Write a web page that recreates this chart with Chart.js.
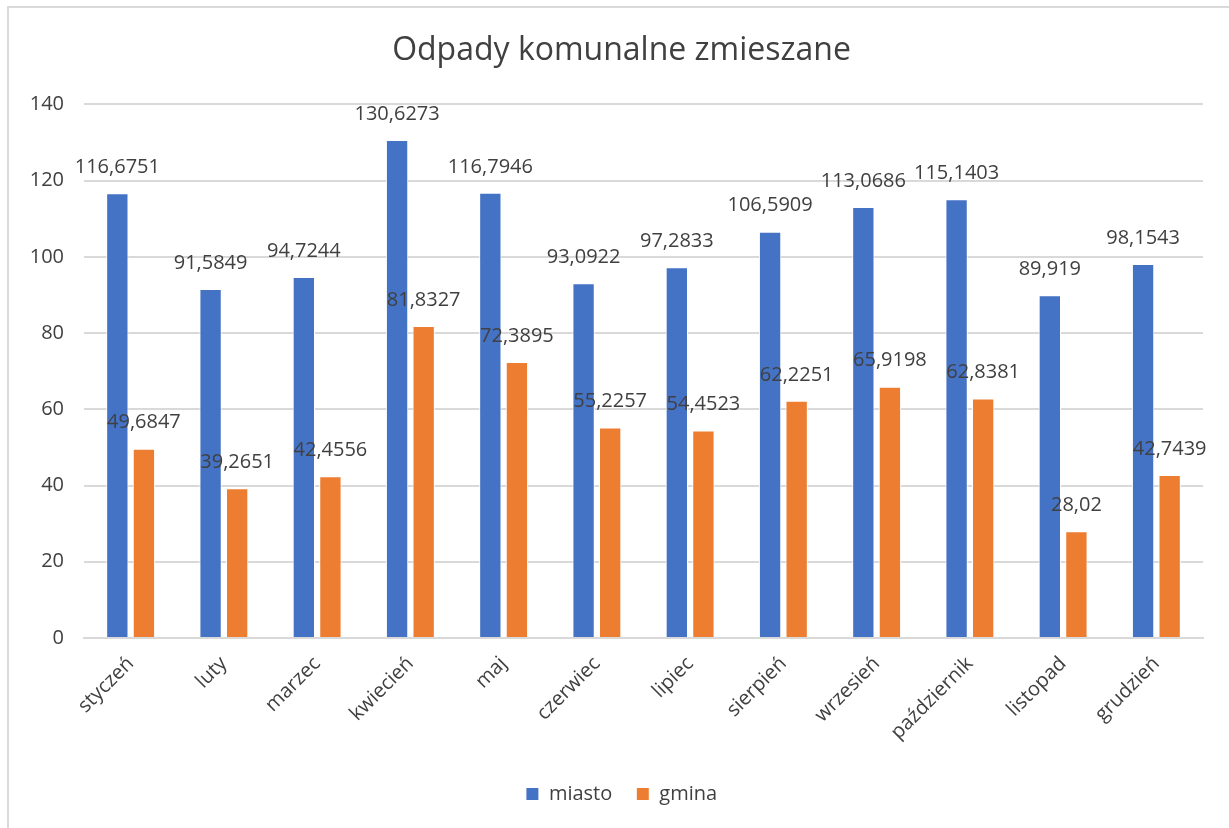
<!DOCTYPE html>
<html>
<head>
<meta charset="utf-8">
<script src="https://cdn.jsdelivr.net/npm/chart.js@4.4.0/dist/chart.umd.min.js"></script>
<style>
  html, body { margin: 0; padding: 0; background: #fff; overflow: hidden; }
  .ramka {
    position: absolute; left: 7px; top: 6px;
    width: 1250px; height: 850px;
    border: 2px solid #d9d9d9;
  }
  .wykres { position: absolute; left: 0; top: 0; width: 1229px; height: 828px; }
</style>
</head>
<body>
<div class="ramka"></div>
<div class="wykres"><canvas id="wykres" width="1229" height="828"></canvas></div>
<script>
const miesiace = ["styczeń", "luty", "marzec", "kwiecień", "maj", "czerwiec",
  "lipiec", "sierpień", "wrzesień", "październik", "listopad", "grudzień"];
const miasto = [116.6751, 91.5849, 94.7244, 130.6273, 116.7946, 93.0922,
  97.2833, 106.5909, 113.0686, 115.1403, 89.919, 98.1543];
const gmina = [49.6847, 39.2651, 42.4556, 81.8327, 72.3895, 55.2257,
  54.4523, 62.2251, 65.9198, 62.8381, 28.02, 42.7439];

const FONT = "'Open Sans', 'Noto Sans', sans-serif";

// etykiety wartości nad słupkami (przecinek dziesiętny)
const etykiety = {
  id: "etykiety",
  afterLayout(chart) {
    // tytuł i legenda w oryginale są trochę bardziej w prawo
    [chart.legend, chart.titleBlock].forEach((box) => {
      if (box) {
        box.left += 20;
        box.right += 20;
      }
    });
  },
  afterDatasetsDraw(chart) {
    const ctx = chart.ctx;
    ctx.save();
    ctx.font = "20px " + FONT;
    ctx.fillStyle = "#404040";
    ctx.textAlign = "center";
    ctx.textBaseline = "middle";
    chart.data.datasets.forEach((ds, i) => {
      chart.getDatasetMeta(i).data.forEach((el, j) => {
        const txt = String(ds.data[j]).replace(".", ",");
        ctx.fillText(txt, el.x, el.y - 26);
      });
    });
    ctx.restore();
  },
};

new Chart(document.getElementById("wykres"), {
  type: "bar",
  data: {
    labels: miesiace,
    datasets: [
      { label: "miasto", data: miasto, backgroundColor: "#4472C4", borderColor: "#ffffff", borderWidth: 1 },
      { label: "gmina", data: gmina, backgroundColor: "#ED7D31", borderColor: "#ffffff", borderWidth: 1 },
    ],
  },
  options: {
    responsive: false,
    animation: false,
    datasets: { bar: { categoryPercentage: 0.57, barPercentage: 0.84 } },
    layout: { padding: { left: 0, right: 26, top: 0, bottom: 14 } },
    plugins: {
      title: {
        display: true,
        text: "Odpady komunalne zmieszane",
        color: "#404040",
        font: { family: FONT, size: 32, weight: "normal" },
        padding: { top: 32, bottom: 34 },
      },
      legend: {
        position: "bottom",
        labels: {
          color: "#404040",
          font: { family: FONT, size: 20 },
          boxWidth: 13,
          boxHeight: 13,
          padding: 24,
        },
      },
      tooltip: { enabled: false },
    },
    scales: {
      x: {
        grid: { display: false },
        border: { color: "#d9d9d9", width: 2 },
        ticks: {
          color: "#404040",
          font: { family: FONT, size: 20 },
          minRotation: 45,
          maxRotation: 45,
          padding: 6,
        },
        afterFit(scale) { scale.height = 122; },
      },
      y: {
        min: 0,
        max: 140,
        ticks: {
          stepSize: 20,
          color: "#404040",
          font: { family: FONT, size: 20 },
          padding: 20,
        },
        grid: { color: "#d9d9d9", lineWidth: 2, drawTicks: false },
        border: { display: false },
        afterFit(scale) { scale.width = 84; },
      },
    },
  },
  plugins: [etykiety],
});
</script>
</body>
</html>
